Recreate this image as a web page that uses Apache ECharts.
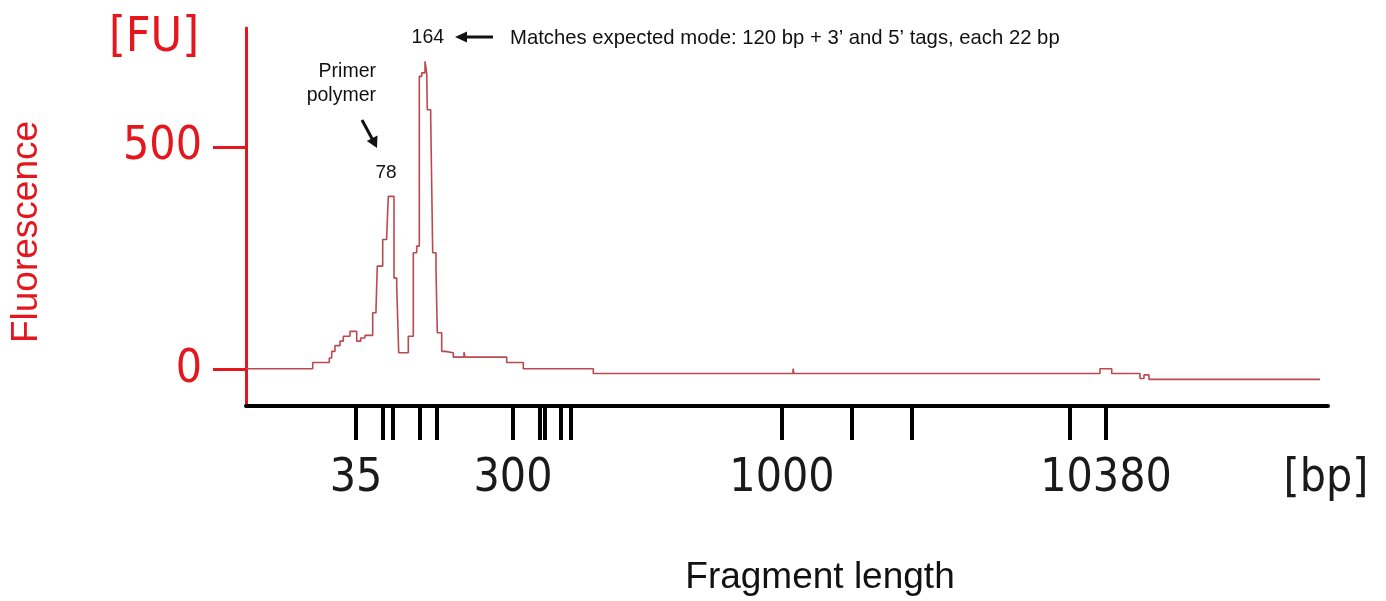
<!DOCTYPE html>
<html>
<head>
<meta charset="utf-8">
<script src="https://cdn.jsdelivr.net/npm/echarts@6/dist/echarts.min.js"></script>
<style>
  html, body { margin: 0; padding: 0; background: #fff; }
  #chart { width: 1386px; height: 601px; }
</style>
</head>
<body>
<div id="chart"></div>
<script>
// Migration position (arbitrary run units) at the start of each level of the stepped trace
const traceX = [0, 6.67, 8.33, 8.57, 8.9, 9.4, 9.73, 10.4, 11.07, 11.47, 11.9, 12.67, 13.0, 13.13, 13.67, 14.07, 14.23, 14.8, 15.07, 15.27, 16.23, 16.73, 17.07, 17.33, 17.57, 17.9, 18.07, 18.13, 18.47, 18.67, 19.0, 19.13, 19.57, 19.9, 20.73, 21.8, 21.9, 26.07, 27.73, 34.73, 54.7, 54.8, 85.4, 86.57, 89.4, 89.8, 90.3, 107.4];
// Fluorescence [FU] of each level
const traceFU = [2, 16, 26, 41, 54, 64, 75, 86, 64, 71, 77, 128, 135, 233, 293, 300, 390, 206, 188, 38, 75, 263, 278, 660, 668, 694, 668, 585, 567, 263, 225, 83, 41, 38, 28, 39, 28, 16, 2, -9, 2, -9, 2, -9, -20, -12, -22, -22];

// Ladder: sizes in bp and their migration positions
const ladderBp  = [35, 50, 100, 150, 200, 300, 400, 500, 600, 700, 1000, 2000, 3000, 7000, 10380];
const ladderPos = [11.0, 13.7, 14.7, 17.4, 19.1, 26.7, 29.35, 29.9, 31.5, 32.5, 53.6, 60.6, 66.6, 82.4, 86.0];
const labeledBp = [35, 300, 1000, 10380];

const yTicks = [0, 500];

// Annotated peaks
const peakLabels = ['78', '164'];
const peakX = [14.5, 17.98];
const peakFU = [390, 694];

const annotationText = 'Matches expected mode: 120 bp + 3\u2019 and 5\u2019 tags, each 22 bp';

const RED = '#e3171d';
const TICKFONT = '"DejaVu Sans Condensed", "DejaVu Sans", sans-serif';
const SANS = '"Liberation Sans", Arial, sans-serif';

const labeledPos = labeledBp.map(b => ladderPos[ladderBp.indexOf(b)]);
const data = traceX.map((x, i) => [x, traceFU[i]]);

const chart = echarts.init(document.getElementById('chart'), null, { renderer: 'canvas' });

chart.setOption({
  animation: false,
  backgroundColor: '#ffffff',
  grid: { left: 246, right: 58, top: 28, bottom: 195, containLabel: false },
  xAxis: {
    type: 'value',
    min: 0,
    max: 108.2,
    splitLine: { show: false },
    axisLine: { show: true, onZero: false, lineStyle: { color: '#000', width: 4 } },
    axisTick: { show: true, customValues: ladderPos, length: 34, lineStyle: { color: '#000', width: 4 } },
    axisLabel: {
      show: true,
      customValues: labeledPos,
      margin: 50,
      fontSize: 46,
      fontFamily: TICKFONT,
      color: '#1a1a1a',
      formatter: function (v) {
        let best = 0, bd = Infinity;
        ladderPos.forEach((p, i) => { const d = Math.abs(p - v); if (d < bd) { bd = d; best = i; } });
        return String(ladderBp[best]);
      }
    }
  },
  yAxis: {
    type: 'value',
    min: -82,
    max: 769,
    splitLine: { show: false },
    axisLine: { show: true, lineStyle: { color: RED, width: 3 } },
    axisTick: { show: true, customValues: yTicks, length: 33, lineStyle: { color: RED, width: 3 } },
    axisLabel: {
      show: true,
      customValues: yTicks,
      margin: 44,
      fontSize: 46,
      fontFamily: TICKFONT,
      color: RED
    }
  },
  series: [{
    type: 'line',
    step: 'end',
    data: data,
    showSymbol: false,
    symbol: 'none',
    clip: false,
    lineStyle: { color: '#bb4a50', width: 1.6 },
    z: 3
  }]
});

function addGraphics() {
  const pk = peakX.map((x, i) => chart.convertToPixel({ gridIndex: 0 }, [x, peakFU[i]]));
  const p78 = pk[0], p164 = pk[1];
  const txt = (x, y, text, size, color, family, align, rot) => ({
    type: 'text', x: x, y: y, rotation: rot || 0,
    style: { text: text, fontSize: size, fill: color, fontFamily: family, align: align || 'center', verticalAlign: 'middle' }
  });
  const g = [
    txt(154, 39, '[FU]', 48, RED, TICKFONT),
    txt(1326, 479, '[bp]', 46, '#1a1a1a', TICKFONT),
    txt(27, 232, 'Fluorescence', 37, RED, SANS, 'center', Math.PI / 2),
    txt(820, 578, 'Fragment length', 37, '#111', SANS),
    txt(p78[0] - 5, p78[1] - 24, peakLabels[0], 19, '#111', SANS),
    txt(p164[0] + 2, p164[1] - 24, peakLabels[1], 19.5, '#111', SANS),
    txt(510, 38, annotationText, 20.3, '#111', SANS, 'left'),
    txt(376, 72, 'Primer', 19.5, '#111', SANS, 'right'),
    txt(376, 96, 'polymer', 19.5, '#111', SANS, 'right'),
    // arrow to 164
    { type: 'line', shape: { x1: 464, y1: 37, x2: 493, y2: 37 }, style: { stroke: '#111', lineWidth: 3 } },
    { type: 'polygon', shape: { points: [[455, 37], [467, 31.5], [467, 42.5]] }, style: { fill: '#111' } },
    // arrow to 78
    { type: 'line', shape: { x1: 362, y1: 120, x2: 372.5, y2: 139.5 }, style: { stroke: '#111', lineWidth: 3 } },
    { type: 'polygon', shape: { points: [[377, 148], [366.8, 141], [377.5, 135.5]] }, style: { fill: '#111' } }
  ];
  chart.setOption({ graphic: g });
}
addGraphics();
</script>
</body>
</html>
